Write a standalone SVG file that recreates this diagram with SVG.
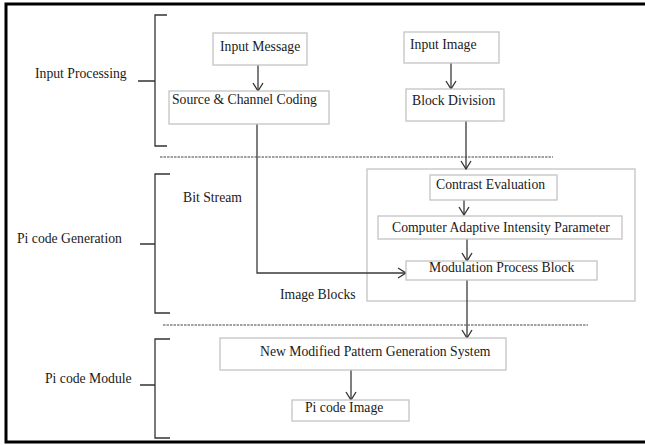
<svg xmlns="http://www.w3.org/2000/svg" width="645" height="445" viewBox="0 0 645 445">
<defs>
<marker id="arr" markerWidth="12" markerHeight="12" refX="10" refY="6" orient="auto" markerUnits="userSpaceOnUse">
<path d="M2,1 L10,6 L2,11" fill="none" stroke="#333" stroke-width="1.3"/>
</marker>
</defs>
<style>
.box{fill:#fff;stroke:#c4c4c4;stroke-width:1.3}
.t{font-family:"Liberation Serif","DejaVu Serif",serif;font-size:13.7px;fill:#1a1a1a}
.c{fill:none;stroke:#3a3a3a;stroke-width:1.3}
.dash{fill:none;stroke:#444;stroke-width:1;stroke-dasharray:2.5 1}
.br{fill:none;stroke:#333;stroke-width:1.3}
</style>
<rect x="0" y="0" width="645" height="445" fill="#fff"/>
<rect x="6" y="4" width="645" height="438" fill="none" stroke="#000" stroke-width="3"/>

<g id="braces">
<path class="br" d="M167,15 H155 V146 H167 M138,81 H155"/>
<path class="br" d="M170,174 H155 V313 H170 M140,244 H155"/>
<path class="br" d="M170,339 H155 V438 H170 M140,385 H155"/>
</g>
<g id="dividers">
<line class="dash" x1="160" y1="157" x2="553" y2="157"/>
<line class="dash" x1="163" y1="325" x2="588" y2="325"/>
</g>
<g id="labels">
<text class="t" x="35" y="78">Input Processing</text>
<text class="t" x="17" y="243">Pi code Generation</text>
<text class="t" x="45" y="383">Pi code Module</text>
<text class="t" x="183" y="202">Bit Stream</text>
<text class="t" x="280" y="299">Image Blocks</text>
</g>

<g id="container"><rect class="box" x="367" y="169" width="268" height="132"/></g>

<g id="connectors">
<line class="c" x1="258" y1="65" x2="258" y2="91" marker-end="url(#arr)"/>
<line class="c" x1="451" y1="63" x2="451" y2="89" marker-end="url(#arr)"/>
<line class="c" x1="466" y1="121" x2="466" y2="169" marker-end="url(#arr)"/>
<line class="c" x1="464" y1="200" x2="464" y2="215" marker-end="url(#arr)"/>
<line class="c" x1="467" y1="239" x2="467" y2="261" marker-end="url(#arr)"/>
<polyline class="c" points="257,124 257,273 406,273" marker-end="url(#arr)"/>
<line class="c" x1="467" y1="280" x2="467" y2="338" marker-end="url(#arr)"/>
<line class="c" x1="351" y1="370" x2="351" y2="400" marker-end="url(#arr)"/>
</g>

<g id="input-message"><rect class="box" x="213" y="33" width="94" height="32"/><text class="t" x="220" y="51">Input Message</text></g>
<g id="source-channel-coding"><rect class="box" x="169" y="91" width="160" height="33"/><text class="t" x="172" y="104">Source &amp; Channel Coding</text></g>
<g id="input-image"><rect class="box" x="404" y="32" width="95" height="31"/><text class="t" x="410" y="49">Input Image</text></g>
<g id="block-division"><rect class="box" x="406" y="89" width="98" height="32"/><text class="t" x="412" y="105">Block Division</text></g>
<g id="contrast-evaluation"><rect class="box" x="430" y="175" width="127" height="25"/><text class="t" x="436" y="189">Contrast Evaluation</text></g>
<g id="adaptive-intensity"><rect class="box" x="378" y="216" width="244" height="23"/><text class="t" x="392" y="232">Computer Adaptive Intensity Parameter</text></g>
<g id="modulation"><rect class="box" x="406" y="261" width="191" height="19"/><text class="t" x="429" y="272">Modulation Process Block</text></g>
<g id="pattern-generation"><rect class="box" x="220" y="338" width="286" height="32"/><text class="t" x="260" y="356">New Modified Pattern Generation System</text></g>
<g id="pi-code-image"><rect class="box" x="292" y="400" width="117" height="21"/><text class="t" x="305" y="412">Pi code Image</text></g>
</svg>
